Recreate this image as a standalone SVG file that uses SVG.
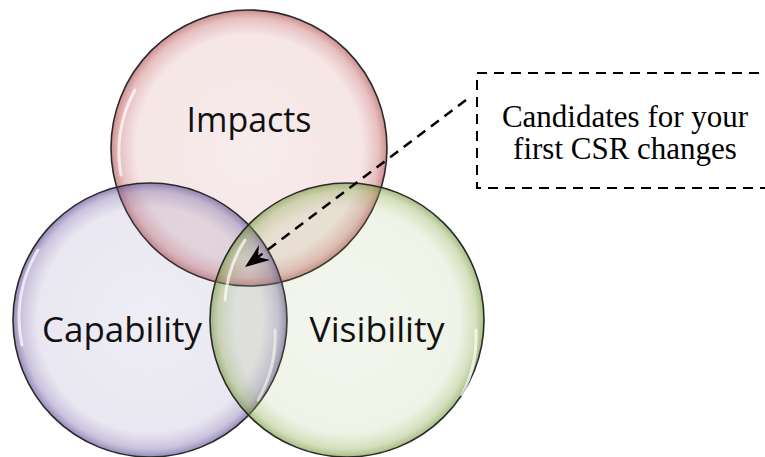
<svg xmlns="http://www.w3.org/2000/svg" width="765" height="457" viewBox="0 0 765 457">
  <defs>
    <!-- glossy translucent bubble fills -->
    <radialGradient id="gRed" cx="50%" cy="50%" r="50%">
      <stop offset="0" stop-color="#c86a6a" stop-opacity="0.13"/>
      <stop offset="0.82" stop-color="#c86a6a" stop-opacity="0.17"/>
      <stop offset="0.94" stop-color="#c05858" stop-opacity="0.38"/>
      <stop offset="1" stop-color="#a84040" stop-opacity="0.6"/>
    </radialGradient>
    <radialGradient id="gPurple" cx="50%" cy="50%" r="50%">
      <stop offset="0" stop-color="#7868a8" stop-opacity="0.12"/>
      <stop offset="0.82" stop-color="#7868a8" stop-opacity="0.16"/>
      <stop offset="0.94" stop-color="#6a58a0" stop-opacity="0.36"/>
      <stop offset="1" stop-color="#503c88" stop-opacity="0.6"/>
    </radialGradient>
    <radialGradient id="gGreen" cx="50%" cy="50%" r="50%">
      <stop offset="0" stop-color="#98b060" stop-opacity="0.11"/>
      <stop offset="0.82" stop-color="#98b060" stop-opacity="0.15"/>
      <stop offset="0.94" stop-color="#88a848" stop-opacity="0.36"/>
      <stop offset="1" stop-color="#6a9030" stop-opacity="0.6"/>
    </radialGradient>
    <style>
      .bubble { stroke: #2a2a2a; stroke-width: 1.6; }
      .shine { fill: none; stroke: #ffffff; stroke-width: 3; stroke-linecap: round; opacity: 0.7; }
      .label { font-family: "Open Sans", "Noto Sans", sans-serif; font-size: 34px; fill: #111; text-anchor: middle; }
      .note { font-family: "Liberation Serif", "Times New Roman", serif; font-size: 31px; fill: #000; text-anchor: middle; }
    </style>
  </defs>

  <rect width="765" height="457" fill="#ffffff"/>

  <g id="impacts">
    <circle class="bubble" cx="249" cy="148" r="138" fill="url(#gRed)"/>
    <path class="shine" d="M121,175 A130,130 0 0 1 135,90"/>
    <text class="label" x="249" y="132" textLength="125" lengthAdjust="spacingAndGlyphs">Impacts</text>
  </g>

  <g id="capability">
    <circle class="bubble" cx="150" cy="320" r="137" fill="url(#gPurple)"/>
    <path class="shine" d="M22,345 A129,129 0 0 1 38,250"/>
    <path class="shine" d="M275,330 A129,129 0 0 1 258,400"/>
    <text class="label" x="122" y="342" textLength="160" lengthAdjust="spacingAndGlyphs">Capability</text>
  </g>

  <g id="visibility">
    <circle class="bubble" cx="347" cy="320" r="137" fill="url(#gGreen)"/>
    <path class="shine" d="M225,300 A129,129 0 0 1 245,240"/>
    <path class="shine" d="M476,330 A129,129 0 0 1 462,395"/>
    <text class="label" x="377" y="342" textLength="135" lengthAdjust="spacingAndGlyphs">Visibility</text>
  </g>

  <g id="note">
    <rect x="477" y="73" width="310" height="115" fill="none" stroke="#000" stroke-width="2" stroke-dasharray="10,7"/>
    <text class="note" x="625" y="127">Candidates for your</text>
    <text class="note" x="625" y="159">first CSR changes</text>
  </g>

  <g id="connectors">
    <line x1="466" y1="100" x2="258" y2="257" stroke="#000" stroke-width="2.5" stroke-dasharray="10,7"/>
    <!-- stealth arrowhead at the shared centre region -->
    <path d="M245,267 L270,260 L258,257 L259,245 Z" fill="#000"/>
  </g>
</svg>
